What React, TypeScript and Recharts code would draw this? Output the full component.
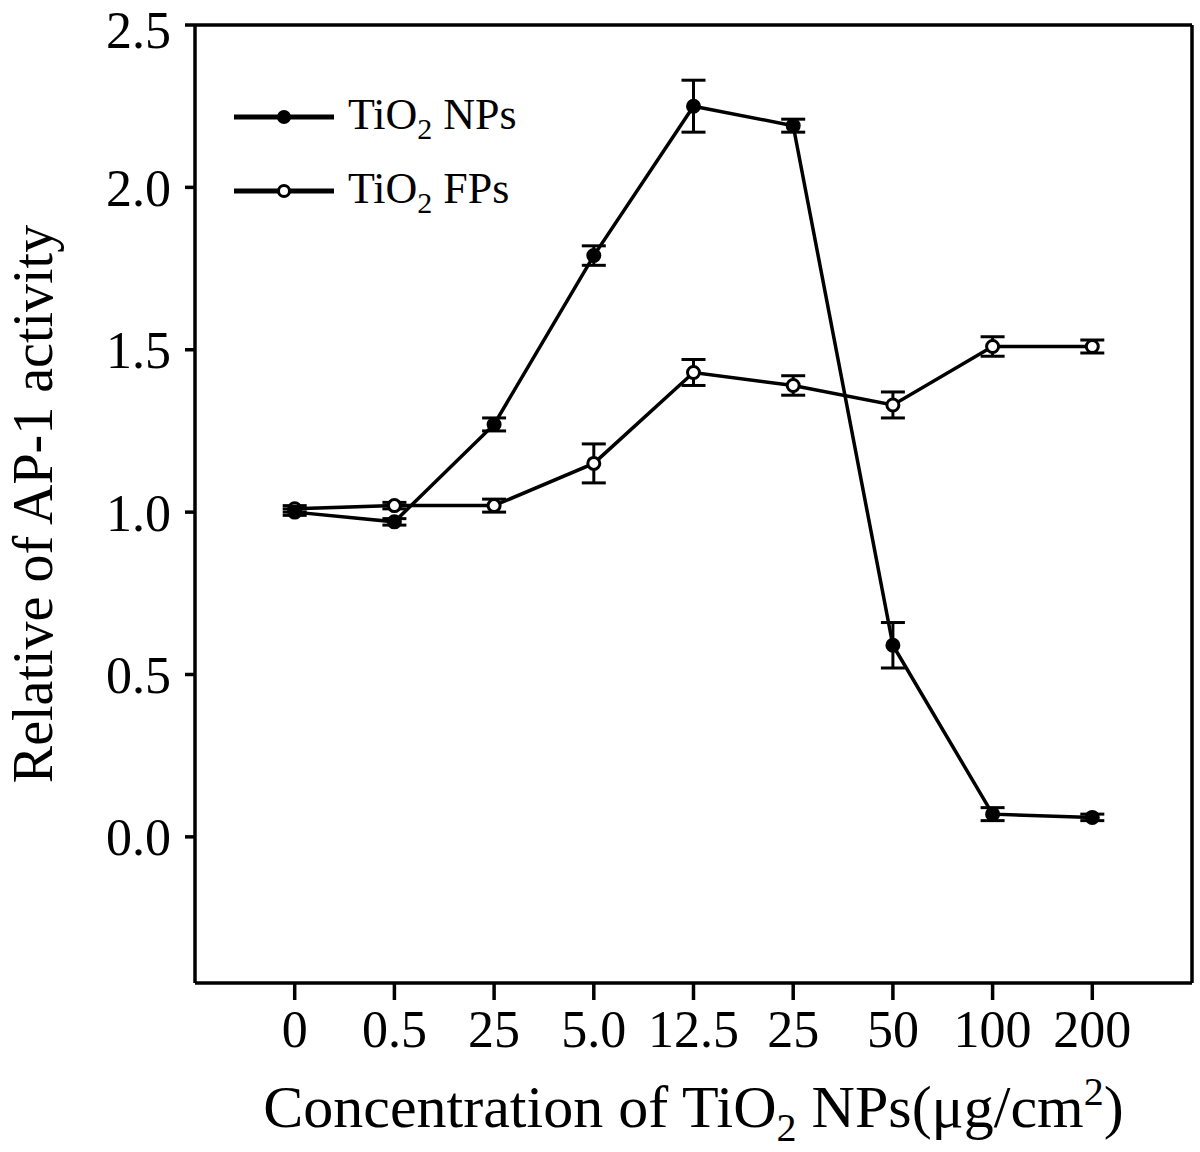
import {
  ErrorBar,
  Line,
  LineChart,
  ReferenceLine,
  XAxis,
  YAxis,
} from "recharts";

const concentrations = ["0", "0.5", "25", "5.0", "12.5", "25", "50", "100", "200"];
const npsValues = [1.0, 0.97, 1.27, 1.79, 2.25, 2.19, 0.59, 0.07, 0.06];
const npsErrors = [0.01, 0.01, 0.02, 0.03, 0.08, 0.02, 0.07, 0.02, 0.01];
const fpsValues = [1.01, 1.02, 1.02, 1.15, 1.43, 1.39, 1.33, 1.51, 1.51];
const fpsErrors = [0.01, 0.01, 0.02, 0.06, 0.04, 0.03, 0.04, 0.03, 0.02];
const yTicks = [0, 0.5, 1.0, 1.5, 2.0, 2.5];

const data = concentrations.map((c, i) => ({
  idx: i,
  label: c,
  nps: npsValues[i],
  npsErr: npsErrors[i],
  fps: fpsValues[i],
  fpsErr: fpsErrors[i],
}));

const FONT = "'Liberation Serif', 'Times New Roman', serif";
const INK = "#000";

function XTitle(props: any) {
  const vb = props.viewBox || {};
  const cx = vb.x + vb.width / 2;
  return (
    <text
      x={cx}
      y={1127}
      textAnchor="middle"
      fontFamily={FONT}
      fontSize={60}
      fill={INK}
    >
      Concentration of TiO
      <tspan fontSize={40} dy={14}>2</tspan>
      <tspan dy={-14}> NPs(μg/cm</tspan>
      <tspan fontSize={40} dy={-22}>2</tspan>
      <tspan dy={22}>)</tspan>
    </text>
  );
}

function YTitle(props: any) {
  const vb = props.viewBox || {};
  const cy = vb.y + vb.height / 2;
  return (
    <text
      x={0}
      y={0}
      transform={`translate(52, ${cy}) rotate(-90)`}
      textAnchor="middle"
      fontFamily={FONT}
      fontSize={56}
      fill={INK}
    >
      Relative of AP-1 activity
    </text>
  );
}

function LegendBox() {
  const items = [
    { name: "NPs", fill: INK },
    { name: "FPs", fill: "#fff" },
  ];
  return (
    <div
      style={{
        position: "absolute",
        left: 232,
        top: 80,
        fontFamily: FONT,
        fontSize: 44,
        color: INK,
      }}
    >
      {items.map((it) => (
        <div
          key={it.name}
          style={{ display: "flex", alignItems: "center", height: 74 }}
        >
          <svg width={108} height={20}>
            <line x1={2} y1={10} x2={102} y2={10} stroke={INK} strokeWidth={5} />
            <circle cx={52} cy={10} r={5.5} fill={it.fill} stroke={INK} strokeWidth={3} />
          </svg>
          <span style={{ marginLeft: 8, whiteSpace: "nowrap" }}>
            TiO<sub style={{ fontSize: 30 }}>2</sub> {it.name}
          </span>
        </div>
      ))}
    </div>
  );
}

export default function App() {
  return (
    <div style={{ position: "absolute", left: 0, top: 0, background: "#fff" }}>
      <LineChart
        width={1200}
        height={1152}
        data={data}
        margin={{ top: 25, right: 8, bottom: 119, left: 95 }}
      >
        <XAxis
          dataKey="idx"
          type="number"
          domain={[-1, 9]}
          ticks={[0, 1, 2, 3, 4, 5, 6, 7, 8]}
          tickFormatter={(v) => concentrations[v] ?? ""}
          axisLine={{ stroke: INK, strokeWidth: 3.5 }}
          tickLine={{ stroke: INK, strokeWidth: 3.5 }}
          tickSize={17}
          tickMargin={10}
          height={50}
          tick={{ fill: INK, fontFamily: FONT, fontSize: 52 }}
          allowDataOverflow
          label={<XTitle />}
        />
        <YAxis
          type="number"
          domain={[-0.45, 2.5]}
          ticks={yTicks}
          tickFormatter={(v) => v.toFixed(1)}
          axisLine={{ stroke: INK, strokeWidth: 3.5 }}
          tickLine={{ stroke: INK, strokeWidth: 3.5 }}
          tickSize={10}
          tickMargin={14}
          width={100}
          tick={{ fill: INK, fontFamily: FONT, fontSize: 52 }}
          allowDataOverflow
          label={<YTitle />}
        />
        <ReferenceLine y={2.5} stroke={INK} strokeWidth={3.5} />
        <ReferenceLine x={9} stroke={INK} strokeWidth={3.5} />
        <Line
          dataKey="fps"
          name="TiO2 FPs"
          stroke={INK}
          strokeWidth={3.5}
          dot={{ r: 6, fill: "#fff", stroke: INK, strokeWidth: 3 }}
          isAnimationActive={false}
        >
          <ErrorBar dataKey="fpsErr" width={12} stroke={INK} strokeWidth={3} direction="y" />
        </Line>
        <Line
          dataKey="nps"
          name="TiO2 NPs"
          stroke={INK}
          strokeWidth={3.5}
          dot={{ r: 6.5, fill: INK, stroke: INK, strokeWidth: 2 }}
          isAnimationActive={false}
        >
          <ErrorBar dataKey="npsErr" width={12} stroke={INK} strokeWidth={3} direction="y" />
        </Line>
      </LineChart>
      <LegendBox />
    </div>
  );
}
